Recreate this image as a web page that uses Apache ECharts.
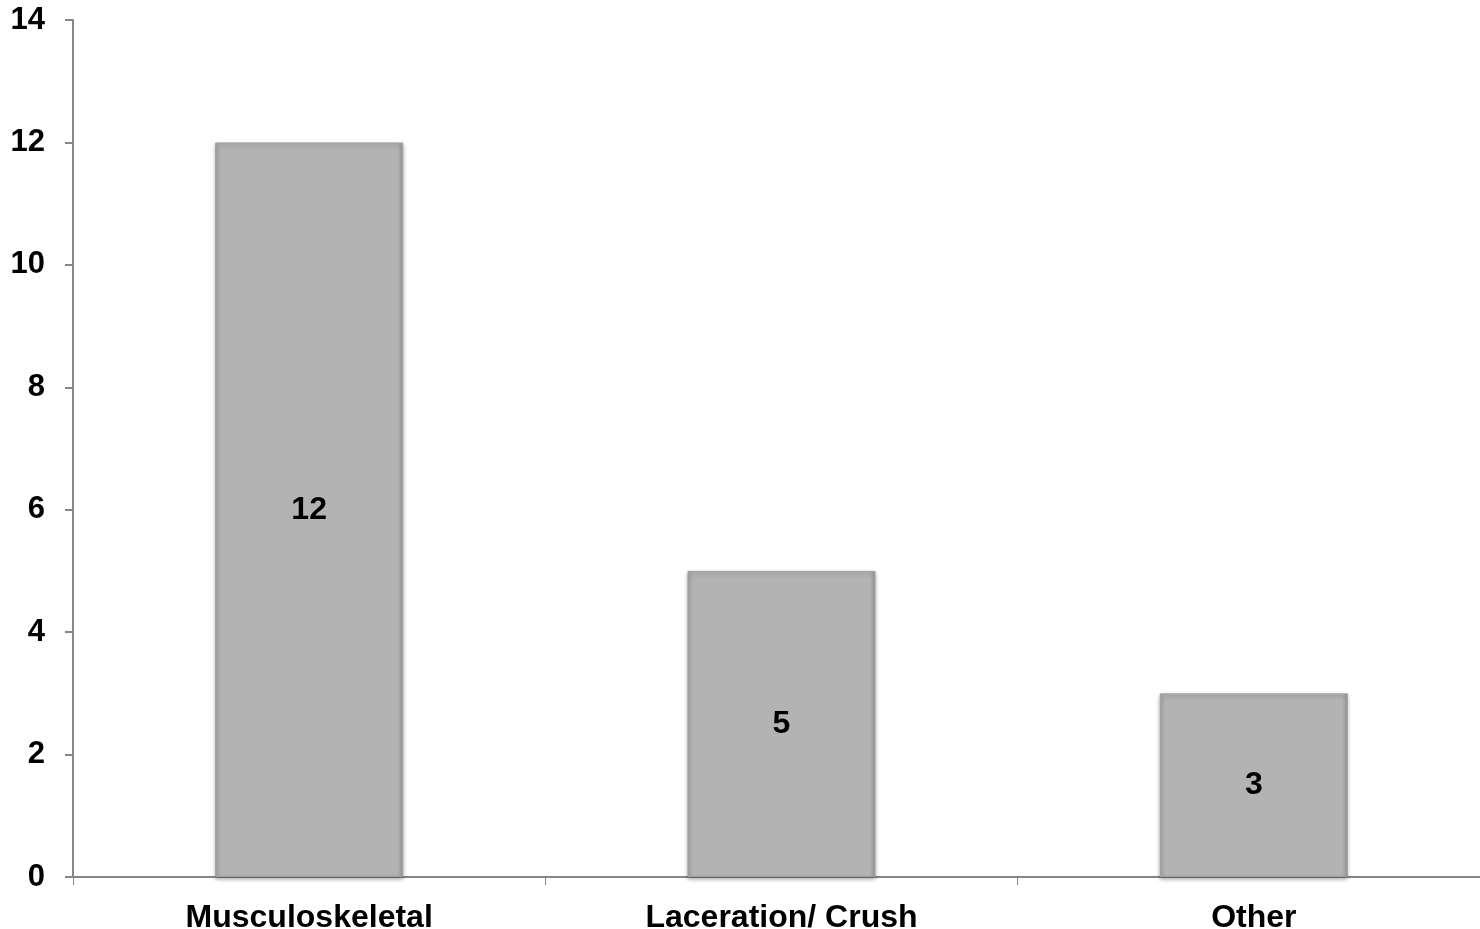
<!DOCTYPE html>
<html>
<head>
<meta charset="utf-8">
<script src="https://cdn.jsdelivr.net/npm/echarts@6/dist/echarts.min.js"></script>
<style>
  html, body { margin: 0; padding: 0; background: #fff; overflow: hidden; }
  #main { width: 1490px; height: 929px; }
</style>
</head>
<body>
<div id="main"></div>
<script>
var categories = ['Musculoskeletal', 'Laceration/ Crush', 'Other']
var counts = [12, 5, 3]
var yTicks = [0, 2, 4, 6, 8, 10, 12, 14]

var chart = echarts.init(document.getElementById('main'))
var font = 'Liberation Sans, Arial, sans-serif'

var option = {
  animation: false,
  grid: {
    left: 73,
    top: 20,
    right: 0,
    bottom: 52,
    outerBoundsMode: 'none'
  },
  xAxis: {
    type: 'category',
    data: categories,
    axisLine: { lineStyle: { color: '#868686', width: 2 } },
    axisTick: { show: true, length: 8, lineStyle: { color: '#868686', width: 1 } },
    axisLabel: {
      margin: 25,
      color: '#000',
      fontFamily: font,
      fontWeight: 'bold',
      fontSize: 32
    }
  },
  yAxis: {
    type: 'value',
    min: yTicks[0],
    max: yTicks[yTicks.length - 1],
    interval: 2,
    splitLine: { show: false },
    axisLine: { show: true, lineStyle: { color: '#868686', width: 2 } },
    axisTick: { show: true, length: 8, lineStyle: { color: '#868686', width: 2 } },
    axisLabel: {
      margin: 28,
      color: '#000',
      fontFamily: font,
      fontWeight: 'bold',
      fontSize: 31
    }
  },
  series: [{
    type: 'bar',
    data: counts,
    barWidth: 188,
    itemStyle: {
      color: new echarts.graphic.LinearGradient(0, 0, 1, 0, [
        { offset: 0, color: '#a6a6a6' },
        { offset: 0.03, color: '#b3b3b3' },
        { offset: 0.97, color: '#b3b3b3' },
        { offset: 1, color: '#9a9a9a' }
      ]),
      borderColor: '#a0a0a0',
      borderWidth: 1,
      shadowColor: 'rgba(0,0,0,0.3)',
      shadowBlur: 4,
      shadowOffsetY: 2
    },
    label: {
      show: true,
      position: 'inside',
      color: '#000',
      fontFamily: font,
      fontWeight: 'bold',
      fontSize: 32
    }
  }]
}

chart.setOption(option)
</script>
</body>
</html>
